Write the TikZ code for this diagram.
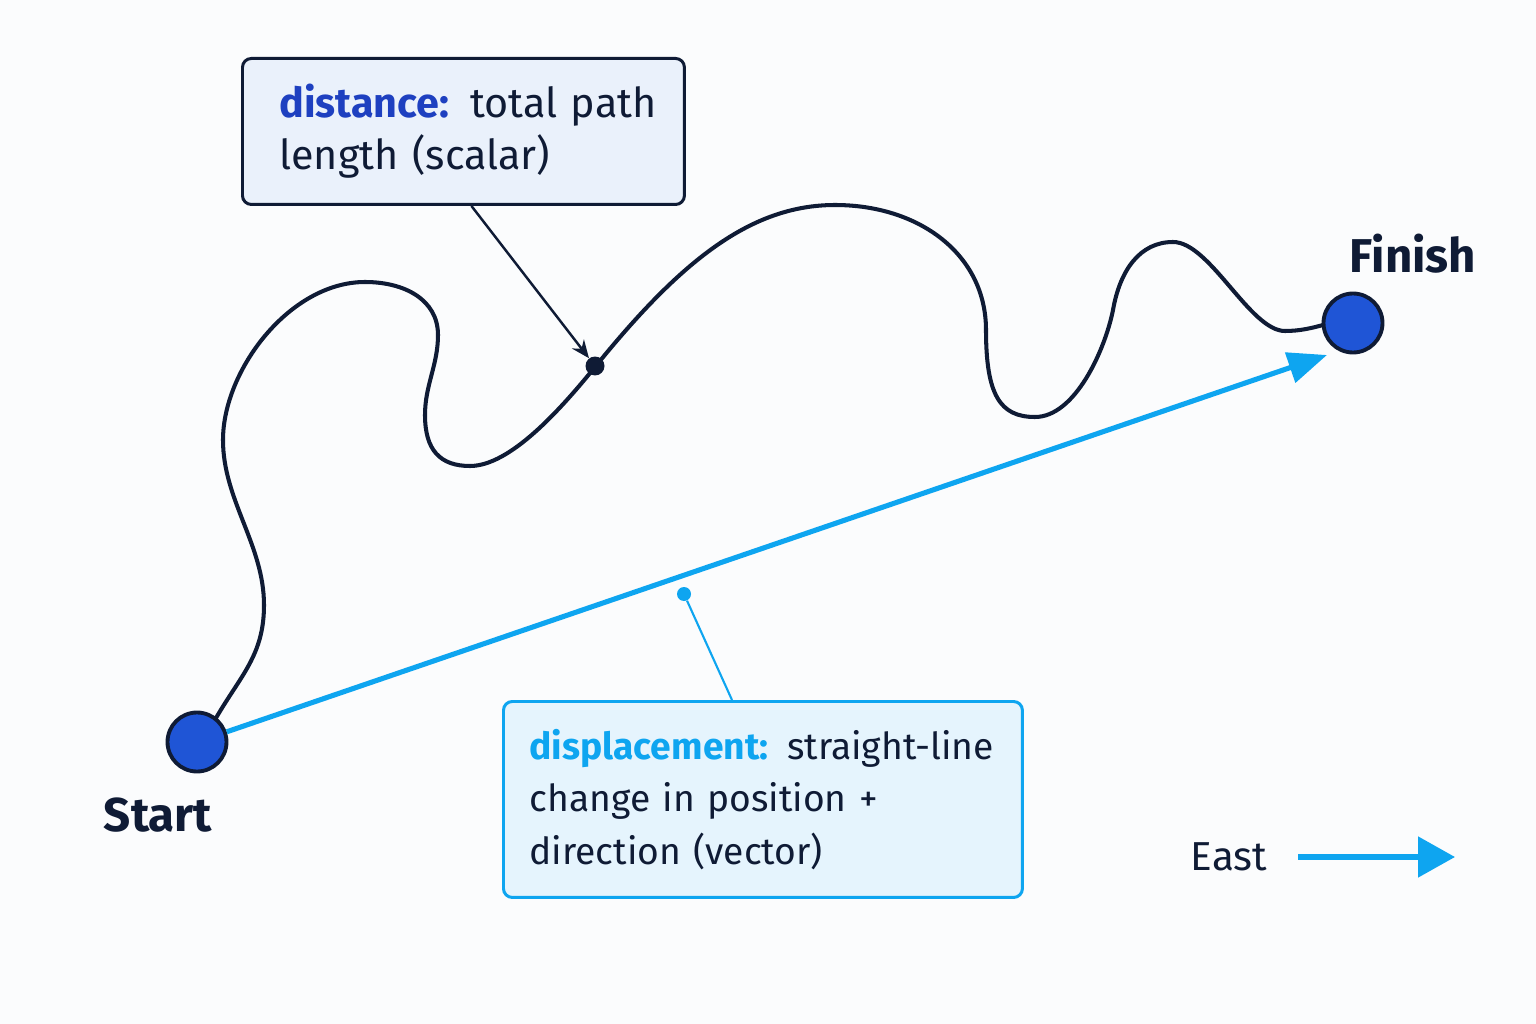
\documentclass[tikz,border=0pt]{standalone}
\usepackage{fontspec}
\setmainfont{Fira Sans}
\usetikzlibrary{arrows.meta,calc}
\definecolor{navy}{HTML}{0F1B35}
\definecolor{dotblue}{HTML}{1F55D6}
\definecolor{sky}{HTML}{0EA5F0}
\definecolor{distlbl}{HTML}{1E40C0}
\definecolor{distfill}{HTML}{EAF1FB}
\definecolor{dispfill}{HTML}{E5F4FD}
\definecolor{bg}{HTML}{FBFCFD}
\begin{document}
\begin{tikzpicture}[x=0.02cm,y=-0.02cm,
  endpt/.style={circle,draw=navy,line width=2.2pt,fill=dotblue,minimum size=1.18cm,inner sep=0pt},
  pathline/.style={draw=navy,line width=2.3pt,line cap=round},
  displine/.style={draw=sky,line width=2.9pt,-{Triangle[length=0.78cm,width=0.62cm]}},
  boxbase/.style={rectangle,rounded corners=5pt,line width=1.7pt,anchor=north west,align=left,text=navy},
  distbox/.style={boxbase,draw=navy,fill=distfill,text width=7.36cm,inner xsep=0.74cm,minimum height=2.92cm,minimum width=8.84cm,
     font=\fontsize{23.5}{29.5}\selectfont},
  dispbox/.style={boxbase,draw=sky,fill=dispfill,text width=9.34cm,inner xsep=0.52cm,minimum height=3.92cm,minimum width=10.38cm,
     font=\fontsize{21.2}{30}\selectfont},
  biglabel/.style={font=\fontsize{27}{30}\selectfont\bfseries,text=navy},
]
\useasboundingbox[fill=bg] (0,0) rectangle (1536,1024);

% winding path (distance)
\draw[pathline] (216,718)
  .. controls (241,675) and (264,655) .. (264,605)
  .. controls (264,545) and (223,500) .. (223,440)
  .. controls (223,370) and (290,282) .. (365,282)
  .. controls (405,282) and (438,300) .. (438,335)
  .. controls (438,365) and (425,385) .. (425,415)
  .. controls (425,450) and (440,466) .. (470,466)
  .. controls (510,466) and (560,410) .. (595,367)
  .. controls (680,262) and (750,205) .. (835,205)
  .. controls (920,205) and (986,255) .. (986,330)
  .. controls (986,395) and (1000,417) .. (1035,417)
  .. controls (1075,417) and (1105,350) .. (1113,310)
  .. controls (1120,270) and (1140,242) .. (1173,242)
  .. controls (1210,242) and (1250,331) .. (1285,331)
  .. controls (1300,331) and (1312,328) .. (1323,325);

% endpoints
\node[endpt] (start) at (197,742) {};
\node[endpt] (finish) at (1353,323) {};
\node[biglabel] (startlbl) at (158,815) {Start};
\node[biglabel] (finishlbl) at (1413,254) {Finish};

% displacement arrow
\coordinate (tip) at (1327,355);
\draw[displine] (start) -- (tip);

% distance callout
\node[distbox] (dbox) at (241,57) {\mbox{{\color{distlbl}\bfseries distance:} total path}\\length (scalar)};
\node[circle,fill=navy,minimum size=0.38cm,inner sep=0pt] (ddot) at (595,366) {};
\draw[navy,line width=1.4pt,-{Stealth[length=0.36cm,width=0.3cm]}] ([xshift=0.16cm]dbox.south) -- (ddot);

% displacement callout
\node[dispbox] (pbox) at (502,700) {\mbox{{\color{sky}\bfseries displacement:} straight-line}\\change in position +\\direction (vector)};
\node[circle,fill=sky,minimum size=0.28cm,inner sep=0pt] (pdot) at (684,594) {};
\coordinate (ptop) at (732,700);
\draw[sky,line width=1.2pt] (pdot) -- (ptop);

% East indicator
\node[font=\fontsize{23}{26}\selectfont,text=navy] (east) at (1229,857) {East};
\coordinate (eastA) at (1298,857);
\coordinate (eastB) at (1455,857);
\draw[sky,line width=2.9pt,-{Triangle[length=0.74cm,width=0.8cm]}] (eastA) -- (eastB);
\end{tikzpicture}
\end{document}
